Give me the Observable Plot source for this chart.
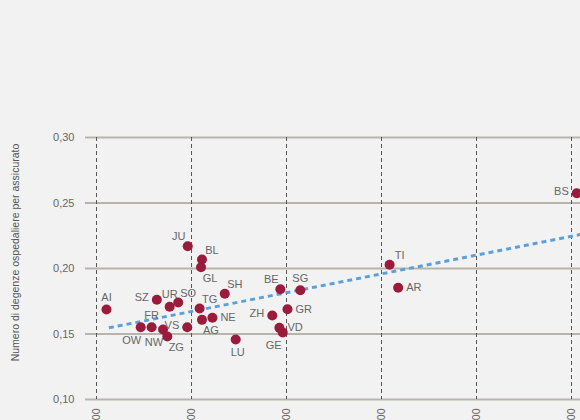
<!DOCTYPE html>
<html>
<head>
<meta charset="utf-8">
<script src="https://cdn.jsdelivr.net/npm/d3@7"></script>
<script src="https://cdn.jsdelivr.net/npm/@observablehq/plot@0.6"></script>
<style>
  html, body { margin: 0; padding: 0; background: #f2f2f2; overflow: hidden; }
  #chart { width: 580px; height: 420px; }
</style>
</head>
<body>
<div id="chart"></div>
<script>
// Cantons, x = cost value (axis labels cropped), y = hospital stays per insured
const cantons = ["AI","JU","BL","GL","SH","SZ","UR","SO","TG","OW","FR","NW","ZG","VS","AG","NE","LU","ZH","BE","SG","GR","VD","GE","TI","AR","BS"];
const xValues = [2021,2192,2222,2220,2270,2127,2154,2172,2217,2093,2116,2140,2149,2191,2222,2244,2293,2370,2387,2429,2402,2385,2392,2617,2635,3011];
const yValues = [0.1687,0.2170,0.2069,0.2010,0.1807,0.1761,0.1708,0.1740,0.1695,0.1552,0.1552,0.1534,0.1481,0.1552,0.1608,0.1624,0.1458,0.1641,0.1842,0.1834,0.1689,0.1547,0.1511,0.2028,0.1853,0.2575];
const labelPlacement = ["top","topleft","topright","bottomright","topright","left","top","topright","topright","bottomleft","top","bottomleft","bottomright","left","bottomright","right","bottom","left","topleft","top","right","right","bottomleft","topright","right","left"];

// Trend line endpoints
const trendX = [2026, 3019];
const trendY = [0.1547, 0.2260];

const xTicks = [2000, 2200, 2400, 2600, 2800, 3000];
const yTicks = [0.10, 0.15, 0.20, 0.25, 0.30];
const yTitle = "Numero di degenze ospedaliere per assicurato";

const data = cantons.map((c, i) => ({canton: c, x: xValues[i], y: yValues[i], pos: labelPlacement[i]}));
const trend = trendX.map((x, i) => ({x, y: trendY[i]}));

const placements = {
  top:         {textAnchor: "middle", dx: 0,  dy: -12},
  bottom:      {textAnchor: "middle", dx: 2,  dy: 13},
  left:        {textAnchor: "end",    dx: -8, dy: -2},
  right:       {textAnchor: "start",  dx: 8,  dy: 0},
  topleft:     {textAnchor: "middle", dx: -9, dy: -10},
  topright:    {textAnchor: "middle", dx: 10, dy: -9},
  bottomleft:  {textAnchor: "middle", dx: -9, dy: 13},
  bottomright: {textAnchor: "middle", dx: 9,  dy: 11}
};

const labelMarks = Object.entries(placements).map(([key, p]) =>
  Plot.text(data.filter(d => d.pos === key), {
    x: "x", y: "y", text: "canton",
    textAnchor: p.textAnchor, dx: p.dx, dy: p.dy,
    fill: "#666", fontSize: 11
  })
);

const fmtX = d => d3.format(",")(d).replace(/,/g, "'");

const chart = Plot.plot({
  width: 580,
  height: 420,
  marginLeft: 85,
  marginRight: 0,
  marginTop: 137,
  marginBottom: 21,
  style: {background: "#f2f2f2", fontFamily: "'Liberation Sans', Arial, sans-serif", fontSize: "10px", color: "#666"},
  x: {domain: [1976.8, 3018.9]},
  y: {domain: [0.10, 0.30]},
  marks: [
    Plot.ruleY(yTicks, {stroke: "#b7b5ab", strokeWidth: 2}),
    Plot.ruleX(xTicks, {stroke: "#555", strokeWidth: 1, strokeDasharray: "4,3"}),
    Plot.axisY(yTicks, {tickSize: 0, tickPadding: 11, tickFormat: d => d.toFixed(2).replace(".", ","), label: null, fontSize: 11}),
    Plot.axisX(xTicks, {tickSize: 0, tickPadding: 9, tickRotate: -90, tickFormat: fmtX, label: null, fontSize: 10.5}),
    Plot.line(trend, {x: "x", y: "y", stroke: "#5ba0d8", strokeWidth: 3, strokeDasharray: "5,4", strokeLinecap: "butt"}),
    Plot.dot(data, {x: "x", y: "y", r: 5, fill: "#9b1b3c"}),
    ...labelMarks,
    Plot.text([yTitle], {frameAnchor: "left", dx: -70, dy: -16, rotate: -90, textAnchor: "middle", fill: "#555", fontSize: 10.5})
  ]
});
document.getElementById("chart").appendChild(chart);
</script>
</body>
</html>
